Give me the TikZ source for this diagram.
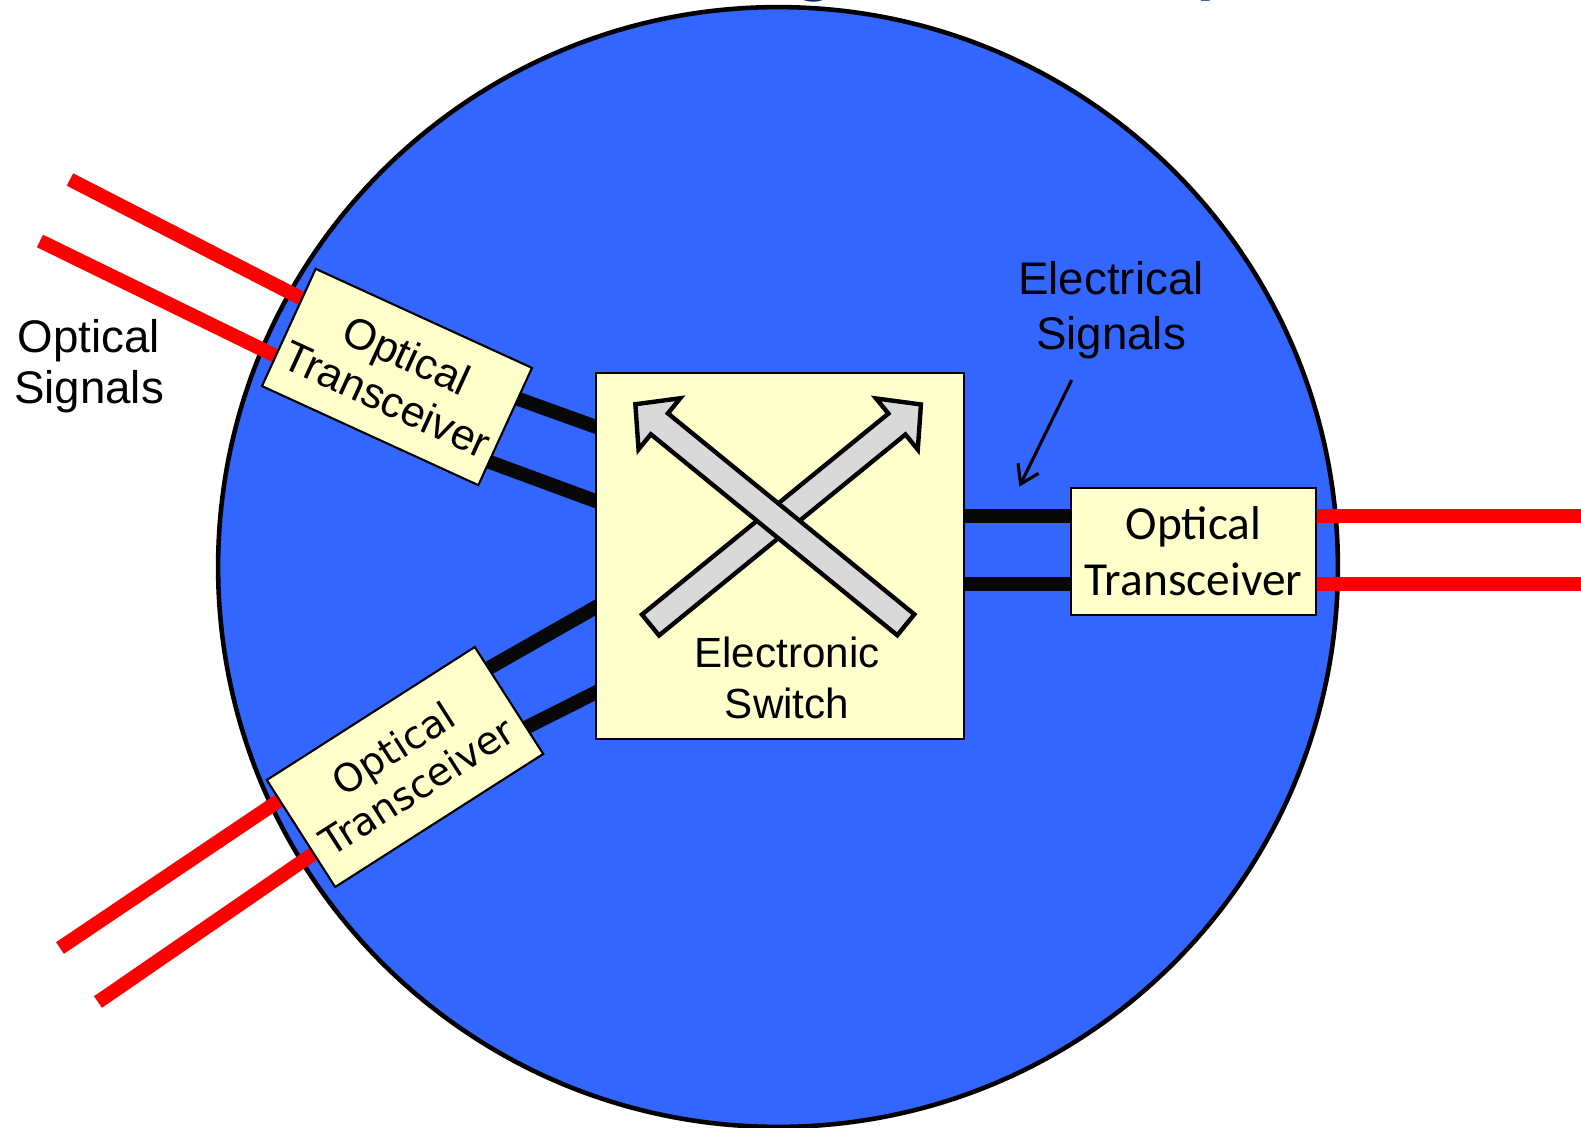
\documentclass[tikz,border=0pt]{standalone}
\usepackage{fontspec}
\setmainfont{Liberation Sans}
\newfontfamily\calibrifont{Carlito}
\newfontfamily\dejavufont{DejaVu Sans}
\usetikzlibrary{arrows.meta,calc}
\pgfdeclarelayer{backlayer}
\pgfdeclarelayer{wirelayer}
\pgfsetlayers{backlayer,wirelayer,main}
\definecolor{bgblue}{HTML}{3366FF}
\definecolor{boxyellow}{HTML}{FFFFCC}
\definecolor{arrowgrey}{HTML}{D9D9D9}
\definecolor{titlenavy}{HTML}{0B2A66}
\definecolor{sigred}{HTML}{FF0000}
\begin{document}
\begin{tikzpicture}[x=0.02cm,y=-0.02cm,
  box/.style={draw=black, fill=boxyellow, line width=1.2pt, align=center, inner sep=0pt},
  redline/.style={draw=sigred, line width=0.28cm},
  blackline/.style={draw=black!97, line width=0.28cm},
  xarrowstyle/.style={draw=black, fill=arrowgrey, line width=2.5pt, line join=miter},
  lbl/.style={align=center, inner sep=0pt},
  titlefrag/.style={anchor=base, text=titlenavy, inner sep=0pt,
      font=\calibrifont\bfseries\fontsize{46}{50}\selectfont}]
\useasboundingbox (0,0) rectangle (1581,1128);

\begin{pgfonlayer}{backlayer}
\fill[white] (0,0) rectangle (1581,1128);
% the big circle
\draw[fill=bgblue, line width=2.6pt] (778,567) circle[radius=11.2cm];
\end{pgfonlayer}

% fragments of the cut-off title
\node[titlefrag] (titleg) at (815,-11) {g};
\node[titlefrag] (titley) at (1213,-11) {y};

% nodes
\node[box, minimum width=4.76cm, minimum height=2.58cm, rotate=-24.6,
      font=\fontsize{24.5}{27.6}\selectfont] (tx1) at (397,377) {Optical\\Transceiver};
\node[box, minimum width=4.94cm, minimum height=2.54cm, rotate=32.6,
      font=\dejavufont\fontsize{22}{25.5}\selectfont] (tx2) at (405,767) {Optical\\Transceiver};
\node[box, minimum width=4.9cm, minimum height=2.54cm,
      font=\calibrifont\fontsize{27}{32}\selectfont] (tx3) at (1193.5,551.5) {Optical\\Transceiver};
\node[box, minimum width=7.36cm, minimum height=7.32cm] (sw) at (780,556) {};

% connector end points
\coordinate (a1) at ($(tx1.north west)!0.25!(tx1.south west)!0.04!(tx1.center)$);
\coordinate (a2) at ($(tx1.north west)!0.75!(tx1.south west)!0.04!(tx1.center)$);
\coordinate (b1) at ($(tx2.north west)!0.18!(tx2.south west)!0.04!(tx2.center)$);
\coordinate (b2) at ($(tx2.north west)!0.69!(tx2.south west)!0.04!(tx2.center)$);
\coordinate (c1) at ($(tx1.north east)!0.26!(tx1.south east)!0.04!(tx1.center)$);
\coordinate (c2) at ($(tx1.north east)!0.81!(tx1.south east)!0.04!(tx1.center)$);
\coordinate (d1) at ($(tx2.north east)!0.19!(tx2.south east)!0.04!(tx2.center)$);
\coordinate (d2) at ($(tx2.north east)!0.755!(tx2.south east)!0.04!(tx2.center)$);
\coordinate (s1) at ($(sw.north west)!0.156!(sw.south west)+(8,0)$);
\coordinate (s2) at ($(sw.north west)!0.358!(sw.south west)+(8,0)$);
\coordinate (s3) at ($(sw.north west)!0.628!(sw.south west)+(8,0)$);
\coordinate (s4) at ($(sw.north west)!0.861!(sw.south west)+(8,0)$);
\coordinate (r1) at ($(tx3.north west)!0.228!(tx3.south west)$);
\coordinate (r2) at ($(tx3.north west)!0.748!(tx3.south west)$);
\coordinate (q1) at ($(tx3.north east)!0.228!(tx3.south east)$);
\coordinate (q2) at ($(tx3.north east)!0.748!(tx3.south east)$);
\coordinate (edge) at (1581,551);
\coordinate (o1) at (70,179.5);
\coordinate (o2) at (40,241);
\coordinate (o3) at (60,948);
\coordinate (o4) at (98,1002);
\coordinate (eltail) at (1071.7,380);
\coordinate (elhead) at (1019.3,486.7);

% connectors (behind the boxes)
\begin{pgfonlayer}{wirelayer}
\draw[redline] (o1) -- (a1);
\draw[redline] (o2) -- (a2);
\draw[redline] (o3) -- (b1);
\draw[redline] (o4) -- (b2);
\draw[blackline] (c1) -- (s1);
\draw[blackline] (c2) -- (s2);
\draw[blackline] (d1) -- (s3);
\draw[blackline] (d2) -- (s4);
\draw[blackline] (r1 -| sw.east) -- ($(r1)+(4,0)$);
\draw[blackline] (r2 -| sw.east) -- ($(r2)+(4,0)$);
\draw[redline] ($(q1)+(-4,0)$) -- (q1 -| edge);
\draw[redline] ($(q2)+(-4,0)$) -- (q2 -| edge);
\end{pgfonlayer}

% crossing arrows of the switch
\begin{scope}[shift={(650.5,625)}, rotate=39.2]
\path[xarrowstyle] (0,-13.5) -- (318,-13.5) -- (318,-33) -- (349,0) -- (318,33) -- (318,13.5) -- (0,13.5) -- cycle;
\end{scope}
\begin{scope}[shift={(905.8,624.8)}, rotate=140.8]
\path[xarrowstyle] (0,-13.5) -- (318,-13.5) -- (318,-33) -- (349,0) -- (318,33) -- (318,13.5) -- (0,13.5) -- cycle;
\end{scope}

% labels
\node[lbl, font=\fontsize{24}{29.3}\selectfont] (swlbl) at (787,678) {Electronic\\Switch};
\node[lbl, font=\fontsize{26}{31.2}\selectfont] (elsig) at (1111,310) {Electrical\\Signals};
\node[lbl, font=\fontsize{26}{29}\selectfont] (opsig) at (89,366) {Optical\\Signals};

\draw[line width=1.8pt, -{Straight Barb[length=10pt,width=13pt,line width=1.8pt]}] (eltail) -- (elhead);
\end{tikzpicture}
\end{document}
